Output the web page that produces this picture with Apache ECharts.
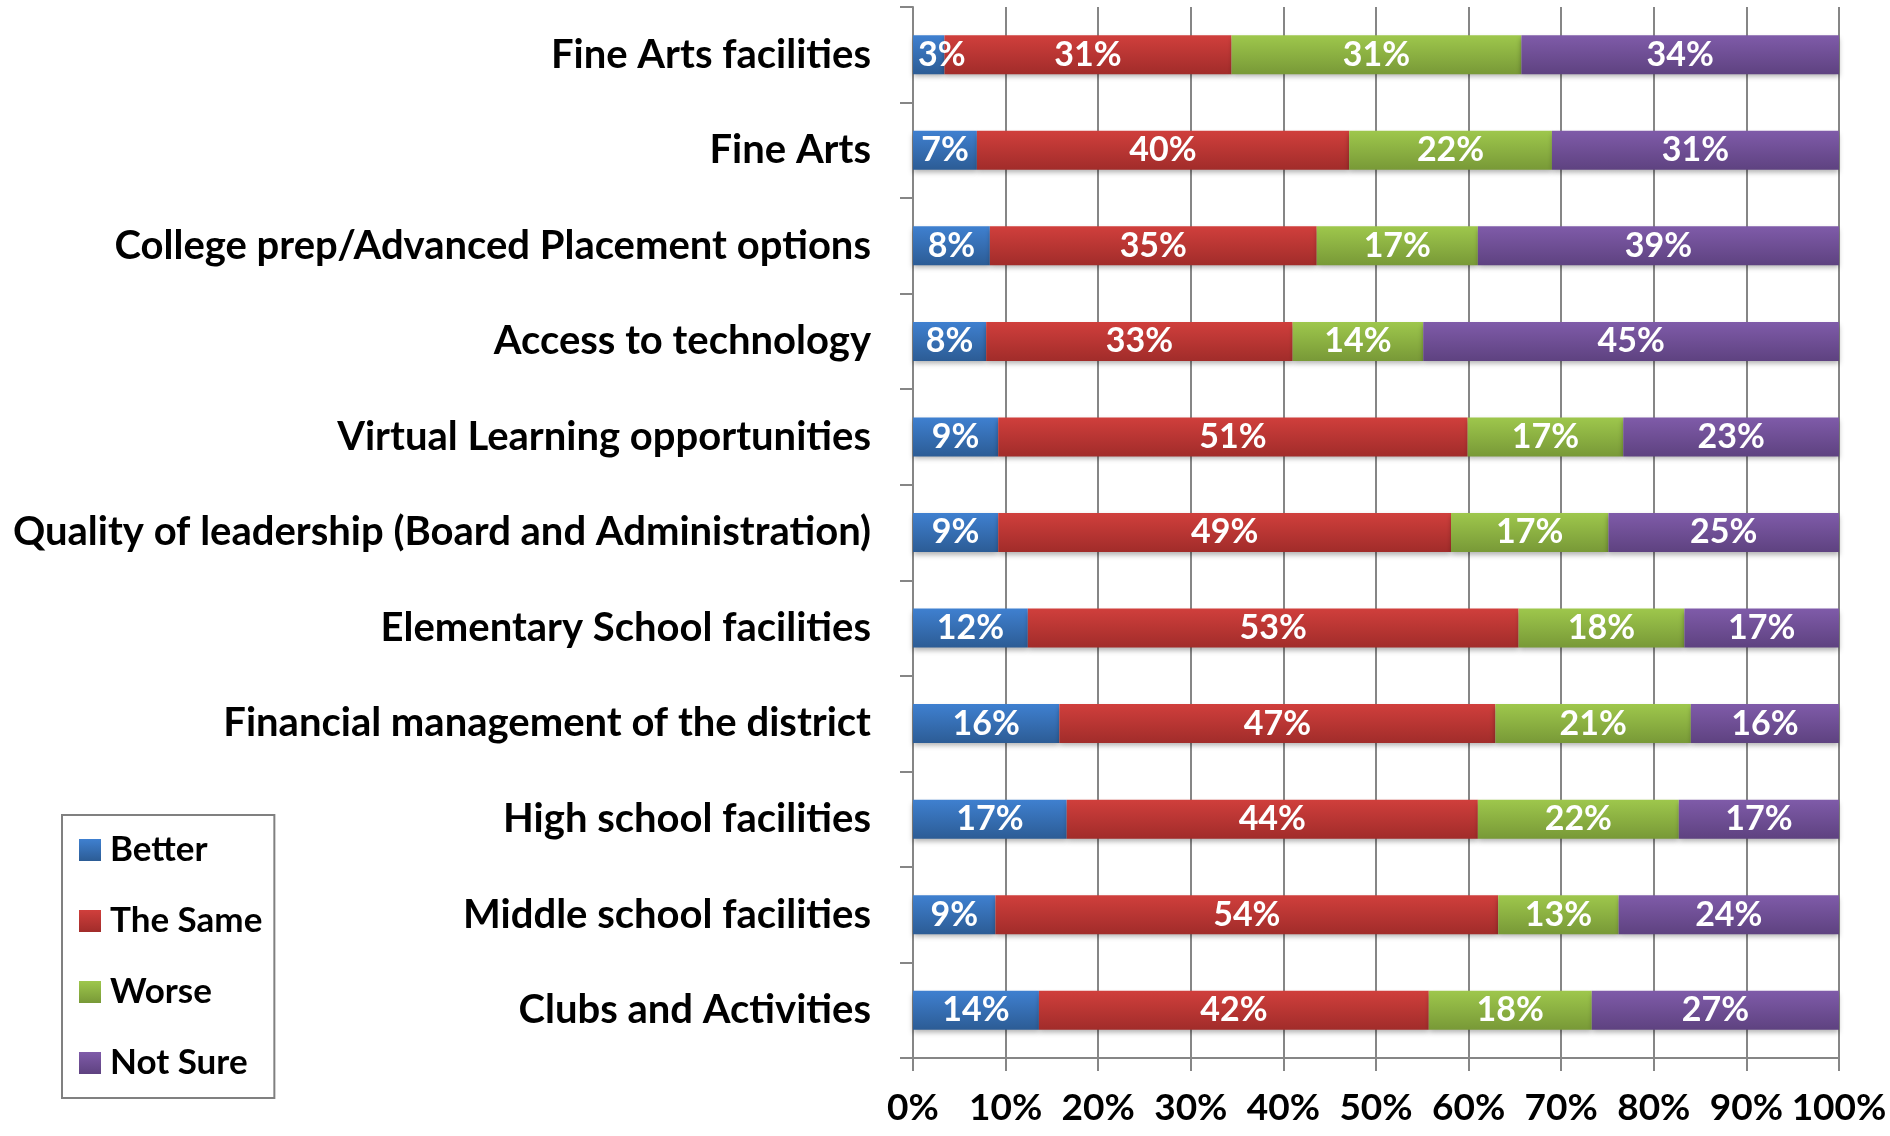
<!DOCTYPE html>
<html>
<head>
<meta charset="utf-8">
<script src="https://cdn.jsdelivr.net/npm/echarts@6/dist/echarts.min.js"></script>
<style>
  html, body { margin: 0; padding: 0; background: #fff; }
  #chart { width: 1890px; height: 1136px; }
</style>
</head>
<body>
<div id="chart"></div>
<script>
// survey rows, top to bottom
const categories = [
    'Fine Arts facilities',
    'Fine Arts',
    'College prep/Advanced Placement options',
    'Access to technology',
    'Virtual Learning opportunities',
    'Quality of leadership (Board and Administration)',
    'Elementary School facilities',
    'Financial management of the district',
    'High school facilities',
    'Middle school facilities',
    'Clubs and Activities'
];

// percentages
const better   = [3.4, 6.9, 8.3, 7.9, 9.2, 9.2, 12.4, 15.8, 16.6, 8.9, 13.6];
const theSame  = [31.0, 40.2, 35.3, 33.1, 50.7, 48.9, 53.0, 47.1, 44.4, 54.3, 42.1];
const worse    = [31.3, 21.9, 17.4, 14.1, 16.8, 17.0, 17.9, 21.1, 21.7, 13.0, 17.6];
const notSure  = [34.3, 31.0, 39.0, 44.9, 23.3, 24.9, 16.7, 16.0, 17.4, 23.8, 26.7];

const seriesNames = ['Better', 'The Same', 'Worse', 'Not Sure'];

const FONT = 'Lato, "Open Sans", sans-serif';

function grad(top, bottom) {
    return new echarts.graphic.LinearGradient(0, 0, 0, 1, [
        { offset: 0, color: top },
        { offset: 1, color: bottom }
    ]);
}

const fills = [
    grad('#3f80d0', '#2c5c95'),
    grad('#d03f3c', '#a12c2a'),
    grad('#9ec74c', '#789937'),
    grad('#7f5ba9', '#5e4280')
];

function makeSeries(name, values, fill) {
    // tiny segments get their label pushed to the left edge, like Excel does
    const data = values.map((v) => {
        if (v >= 5) return v;
        return { value: v, label: { position: 'insideLeft', distance: 5 } };
    });
    return {
        name: name,
        type: 'bar',
        stack: 'total',
        barWidth: 39,
        data: data,
        itemStyle: {
            color: fill,
            shadowColor: 'rgba(0,0,0,0.3)',
            shadowBlur: 5,
            shadowOffsetY: 3
        },
        label: {
            show: true,
            position: 'inside',
            color: '#fff',
            fontFamily: FONT,
            fontWeight: 'bold',
            fontSize: 34,
            formatter: (p) => Math.round(p.value) + '%'
        },
        labelLayout: { hideOverlap: false },
        emphasis: { disabled: true }
    };
}

const chart = echarts.init(document.getElementById('chart'));

chart.setOption({
    animation: false,
    backgroundColor: '#fff',
    grid: {
        left: 913,
        right: 51,
        top: 7,
        bottom: 78
    },
    legend: {
        orient: 'vertical',
        left: 62,
        top: 815,
        padding: [15, 12, 15, 17],
        borderColor: '#808080',
        borderWidth: 2,
        itemWidth: 22,
        itemHeight: 22,
        itemGap: 31,
        icon: 'rect',
        data: seriesNames,
        textStyle: {
            color: '#000',
            fontFamily: FONT,
            fontWeight: 'bold',
            fontSize: 35,
            lineHeight: 40,
            padding: [0, 0, 0, 4]
        }
    },
    xAxis: {
        type: 'value',
        min: 0,
        max: 100,
        interval: 10,
        axisLine: { show: true, lineStyle: { color: '#868686', width: 2 } },
        axisTick: { show: true, length: 13, lineStyle: { color: '#868686', width: 2 } },
        splitLine: { show: true, lineStyle: { color: '#868686', width: 2 } },
        axisLabel: {
            margin: 32,
            showMinLabel: true,
            showMaxLabel: true,
            hideOverlap: false,
            color: '#000',
            fontFamily: FONT,
            fontWeight: 'bold',
            fontSize: 37,
            formatter: (v) => v + '%'
        }
    },
    yAxis: {
        type: 'category',
        inverse: true,
        data: categories,
        axisLine: { show: true, lineStyle: { color: '#868686', width: 2 } },
        axisTick: { show: true, length: 13, lineStyle: { color: '#868686', width: 2 } },
        axisLabel: {
            margin: 42,
            color: '#000',
            fontFamily: FONT,
            fontWeight: 'bold',
            fontSize: 40
        }
    },
    series: [
        makeSeries(seriesNames[0], better, fills[0]),
        makeSeries(seriesNames[1], theSame, fills[1]),
        makeSeries(seriesNames[2], worse, fills[2]),
        makeSeries(seriesNames[3], notSure, fills[3])
    ]
});
</script>
</body>
</html>
